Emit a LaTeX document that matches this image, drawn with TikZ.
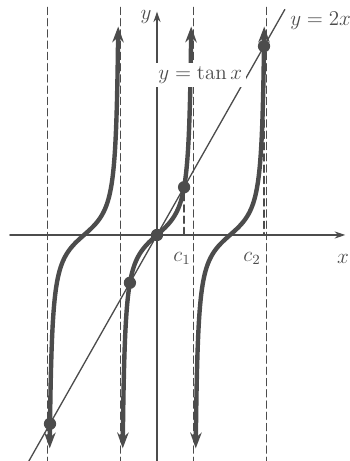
\documentclass[tikz,border=0pt]{standalone}
\usetikzlibrary{arrows.meta}
\definecolor{ink}{gray}{0.3}

\begin{document}
\begin{tikzpicture}[x=0.4648cm,y=0.41cm,line cap=round,line join=round,color=ink,
  font=\large,
  asym/.style={line width=0.85pt,dash pattern=on 4pt off 2.4pt},
  branch/.style={line width=2.5pt,{Stealth[length=9pt,width=6.5pt]}-{Stealth[length=9pt,width=6.5pt]}},
  dot/.style={circle,fill=ink,inner sep=0pt,minimum size=7pt}]
  \useasboundingbox (-3.14cm,-4.52cm) rectangle (3.84cm,4.70cm);
  \coordinate (O) at (0,0);
  % vertical asymptotes
  \foreach \k in {-3,-1,1,3}
    \draw[asym] ({\k*pi/2},11.1) -- ({\k*pi/2},-11.2);
  % axes
  \draw[line width=0.7pt,-{Stealth[length=6pt,width=4pt]}] (-6.33,0) -- (8.1,0) coordinate (xend);
  \draw[line width=0.7pt,-{Stealth[length=6pt,width=4pt]}] (0,-11.2) -- (0,10.9) coordinate (yend);
  \node (ylab) at (-0.47,10.65) {$y$};
  \node (xlab) at (8.0,-1.15) {$x$};
  % branches of tan
  \foreach \c in {-1,0,1} {
    \pgfmathsetmacro\lo{\c*pi-1.475}
    \pgfmathsetmacro\hi{\c*pi+1.475}
    \draw[branch] plot[domain=\lo:\hi,samples=160] (\x,{tan(\x r)});
  }
  % the line y = 2x
  \coordinate (lnlo) at (-5.6,-11.2);
  \coordinate (lnhi) at (5.5,11.0);
  \draw[line width=0.75pt] (lnlo) -- (lnhi);
  \node[anchor=west,inner sep=0pt] (lnlab) at (5.72,10.45) {$y = 2x$};
  % intersections
  \node[dot] (p0) at (O) {};
  \node[dot] (p1) at (1.1656,2.3311) {};
  \node[dot] (p2) at (4.6042,9.2084) {};
  \node[dot] (m1) at (-1.1656,-2.3311) {};
  \node[dot] (m2) at (-4.6042,-9.2084) {};
  \draw[asym] (p1) -- (p1 |- O);
  \draw[asym] (p2) -- (p2 |- O);
  \node (c1lab) at (1.08,-1.15) {$c_1$};
  \node (c2lab) at (4.09,-1.15) {$c_2$};
  \node[fill=white,inner sep=2pt] (tanlab) at (1.86,7.8) {$y = \tan x$};
\end{tikzpicture}
\end{document}
